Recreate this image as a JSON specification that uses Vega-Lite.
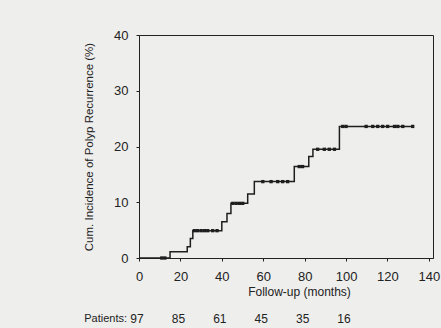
{
  "$schema": "https://vega.github.io/schema/vega-lite/v6.json",
  "width": 294,
  "height": 223,
  "autosize": "none",
  "padding": {"left": 139, "top": 35, "right": 8, "bottom": 70},
  "background": "#eeeeec",
  "config": {
    "font": "Liberation Sans",
    "view": {"stroke": "#222222", "strokeWidth": 1},
    "axis": {"grid": false, "domainColor": "#222222", "tickColor": "#222222", "labelColor": "#222222", "titleColor": "#222222", "titleFontWeight": "normal"}
  },
  "datasets": {
    "curve": [
      {"month": 0, "pct": 0},
      {"month": 15, "pct": 1.1},
      {"month": 23.3, "pct": 2.0},
      {"month": 24.8, "pct": 3.5},
      {"month": 26, "pct": 4.9},
      {"month": 40, "pct": 6.5},
      {"month": 42.5, "pct": 8.0},
      {"month": 44.4, "pct": 9.8},
      {"month": 52.5, "pct": 11.5},
      {"month": 55.7, "pct": 13.7},
      {"month": 75, "pct": 16.4},
      {"month": 82, "pct": 18.2},
      {"month": 84, "pct": 19.5},
      {"month": 96.8, "pct": 23.6},
      {"month": 132.2, "pct": 23.6}
    ],
    "cens": [
      {"month": 11, "pct": 0}, {"month": 12.5, "pct": 0},
      {"month": 26.7, "pct": 4.9}, {"month": 28.3, "pct": 4.9}, {"month": 30, "pct": 4.9}, {"month": 31.6, "pct": 4.9}, {"month": 33.2, "pct": 4.9}, {"month": 35.6, "pct": 4.9}, {"month": 37.7, "pct": 4.9},
      {"month": 45.3, "pct": 9.8}, {"month": 46.9, "pct": 9.8}, {"month": 48.5, "pct": 9.8}, {"month": 50.1, "pct": 9.8},
      {"month": 59.8, "pct": 13.7}, {"month": 63.8, "pct": 13.7}, {"month": 67, "pct": 13.7}, {"month": 69.4, "pct": 13.7}, {"month": 71.8, "pct": 13.7},
      {"month": 77.4, "pct": 16.4}, {"month": 79, "pct": 16.4},
      {"month": 86.3, "pct": 19.5}, {"month": 89.5, "pct": 19.5}, {"month": 91.9, "pct": 19.5}, {"month": 94.4, "pct": 19.5},
      {"month": 98.4, "pct": 23.6}, {"month": 100, "pct": 23.6}, {"month": 109.7, "pct": 23.6}, {"month": 112.9, "pct": 23.6}, {"month": 115.3, "pct": 23.6}, {"month": 117.7, "pct": 23.6}, {"month": 120.1, "pct": 23.6}, {"month": 123.4, "pct": 23.6}, {"month": 125, "pct": 23.6}, {"month": 127.4, "pct": 23.6}, {"month": 132.2, "pct": 23.6}
    ],
    "risk": [
      {"month": 0, "row": -11, "n": "97"},
      {"month": 20, "row": -11, "n": "85"},
      {"month": 40, "row": -11, "n": "61"},
      {"month": 60, "row": -11, "n": "45"},
      {"month": 80, "row": -11, "n": "35"},
      {"month": 100, "row": -11, "n": "16"}
    ],
    "risklabel": [
      {"month": 0, "row": -11, "label": "Patients:"}
    ]
  },
  "layer": [
    {
      "data": {"name": "curve"},
      "mark": {"type": "line", "interpolate": "step-after", "color": "#1e1e1e", "strokeWidth": 1.5},
      "encoding": {
        "x": {
          "field": "month", "type": "quantitative",
          "scale": {"domain": [0, 142], "nice": false},
          "axis": {"values": [0, 20, 40, 60, 80, 100, 120, 140], "title": "Follow-up (months)", "labelFontSize": 13, "titleFontSize": 12, "tickSize": 3, "labelPadding": 9, "titlePadding": 3, "titleX": 160, "labelFlush": false}
        },
        "y": {
          "field": "pct", "type": "quantitative",
          "scale": {"domain": [0, 40], "nice": false},
          "axis": {"values": [0, 10, 20, 30, 40], "title": "Cum. Incidence of Polyp Recurrence (%)", "labelFontSize": 13, "titleFontSize": 11.5, "tickSize": 3, "labelPadding": 8, "titlePadding": 19}
        }
      }
    },
    {
      "data": {"name": "cens"},
      "mark": {"type": "point", "filled": true, "shape": "square", "size": 11, "color": "#1e1e1e", "opacity": 1},
      "encoding": {
        "x": {"field": "month", "type": "quantitative"},
        "y": {"field": "pct", "type": "quantitative"}
      }
    },
    {
      "data": {"name": "risk"},
      "mark": {"type": "text", "fontSize": 12, "color": "#222222", "baseline": "middle", "align": "center", "dx": -2},
      "encoding": {
        "x": {"field": "month", "type": "quantitative"},
        "y": {"field": "row", "type": "quantitative"},
        "text": {"field": "n"}
      }
    },
    {
      "data": {"name": "risklabel"},
      "mark": {"type": "text", "fontSize": 11, "color": "#222222", "baseline": "middle", "align": "right", "dx": -12},
      "encoding": {
        "x": {"field": "month", "type": "quantitative"},
        "y": {"field": "row", "type": "quantitative"},
        "text": {"field": "label"}
      }
    }
  ]
}
